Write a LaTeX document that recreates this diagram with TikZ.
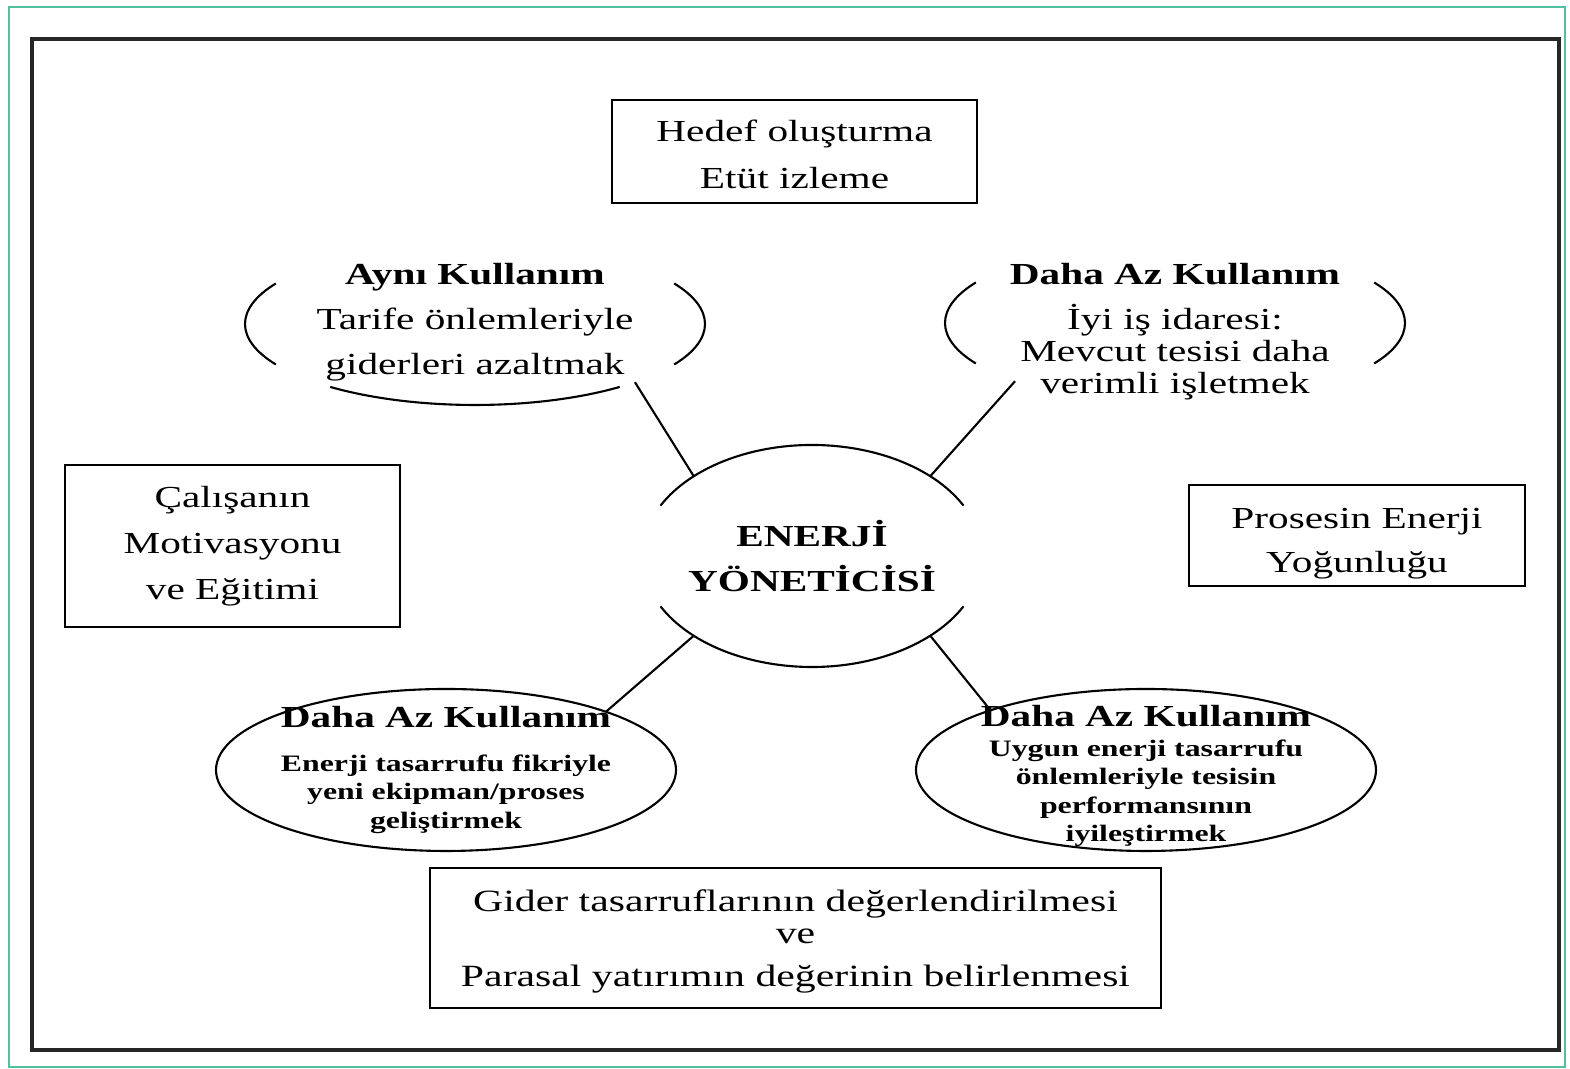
\documentclass[tikz,border=0pt]{standalone}
\usepackage{fontspec}
\setmainfont{Liberation Serif}[FakeStretch=1.35]
\usepackage{tikz}
\usetikzlibrary{shapes.geometric}
\definecolor{frameteal}{HTML}{52C0A0}

\begin{document}
\begin{tikzpicture}[x=1cm,y=1cm,
    box/.style={draw,line width=0.7pt,inner sep=0pt,align=center},
    oval/.style={ellipse,inner sep=0pt,outer sep=0pt,minimum width=4.6cm,minimum height=1.62cm},
    txt/.style={align=center,inner sep=0pt},
    link/.style={line width=0.6pt}]
  \useasboundingbox (0,0) rectangle (15.70,10.69);
  \draw[frameteal,line width=0.8pt] (0.09,0.02) rectangle (15.65,10.62);
  \draw[black!85,line width=0.9pt] (0.32,0.19) rectangle (15.59,10.30);
  \node[box,minimum width=3.65cm,minimum height=1.03cm,font=\fontsize{8.7}{13.4}\selectfont] (goal) at (7.945,9.175) {\rule{0pt}{8pt}Hedef oluşturma\\Etüt izleme};
  \node[box,minimum width=3.35cm,minimum height=1.62cm,font=\fontsize{8.7}{13.1}\selectfont] (staff) at (2.325,5.23) {Çalışanın\\Motivasyonu\\ve Eğitimi};
  \node[box,minimum width=3.36cm,minimum height=1.01cm,font=\fontsize{8.7}{12.5}\selectfont] (proc) at (13.57,5.335) {\rule{0pt}{10.6pt}Prosesin Enerji\\Yoğunluğu};
  \node[box,minimum width=7.31cm,minimum height=1.40cm,font=\fontsize{8.8}{12.2}\selectfont] (cost) at (7.955,1.31) {\rule{0pt}{8pt}Gider tasarruflarının değerlendirilmesi\\[-3.1pt]ve\\Parasal yatırımın değerinin belirlenmesi};
  \node[ellipse,inner sep=0pt,outer sep=0pt,minimum width=3.4cm,minimum height=2.22cm] (mgr) at (8.12,5.13) {};
  \node[txt,font=\fontsize{8.7}{12.8}\selectfont\bfseries] (mgrtext) at (mgr) {ENERJİ\\YÖNETİCİSİ};
  \draw[link] ([shift={(27:1.7 and 1.11)}]mgr.center) arc[start angle=27,end angle=153,x radius=1.7,y radius=1.11];
  \draw[link] ([shift={(207:1.7 and 1.11)}]mgr.center) arc[start angle=207,end angle=333,x radius=1.7,y radius=1.11];
  \node[oval] (same) at (4.75,7.45) {};
  \node[txt,font=\fontsize{8.7}{12.8}\selectfont] (sametext) at (4.75,7.47) {\textbf{Aynı Kullanım}\\Tarife önlemleriyle\\giderleri azaltmak};
  \draw[link] ([shift={(150:2.3 and 0.81)}]same.center) arc[start angle=150,end angle=210,x radius=2.3,y radius=0.81];
  \draw[link] ([shift={(-30:2.3 and 0.81)}]same.center) arc[start angle=-30,end angle=30,x radius=2.3,y radius=0.81];
  \draw[link] ([shift={(231:2.3 and 0.81)}]same.center) arc[start angle=231,end angle=309,x radius=2.3,y radius=0.81];
  \node[oval] (good) at (11.75,7.46) {};
  \node[txt,font=\fontsize{8.7}{9.1}\selectfont] (goodtext) at (11.75,7.37) {\textbf{Daha Az Kullanım}\\[3.7pt]İyi iş idaresi:\\Mevcut tesisi daha\\verimli işletmek};
  \draw[link] ([shift={(150:2.3 and 0.81)}]good.center) arc[start angle=150,end angle=210,x radius=2.3,y radius=0.81];
  \draw[link] ([shift={(-30:2.3 and 0.81)}]good.center) arc[start angle=-30,end angle=30,x radius=2.3,y radius=0.81];
  \node[oval,draw,link] (newq) at (4.46,2.99) {};
  \node[txt,font=\fontsize{6.7}{8.1}\selectfont\bfseries] (newqtext) at (4.46,2.99) {{\fontsize{8.7}{8.1}\selectfont Daha Az Kullanım}\\[4.4pt]Enerji tasarrufu fikriyle\\yeni ekipman/proses\\geliştirmek};
  \node[oval,draw,link] (tune) at (11.46,2.99) {};
  \node[txt,font=\fontsize{6.7}{8.1}\selectfont\bfseries] (tunetext) at (11.46,2.93) {{\fontsize{8.7}{8.1}\selectfont Daha Az Kullanım}\\[0.4pt]Uygun enerji tasarrufu\\önlemleriyle tesisin\\performansının\\iyileştirmek};
  \draw[link] (mgr.146) -- (same.-20);
  \draw[link] (mgr.34) -- (good.200);
  \draw[link] (mgr.214) -- (newq.20);
  \draw[link] (mgr.-34) -- (tune.159);
\end{tikzpicture}
\end{document}
